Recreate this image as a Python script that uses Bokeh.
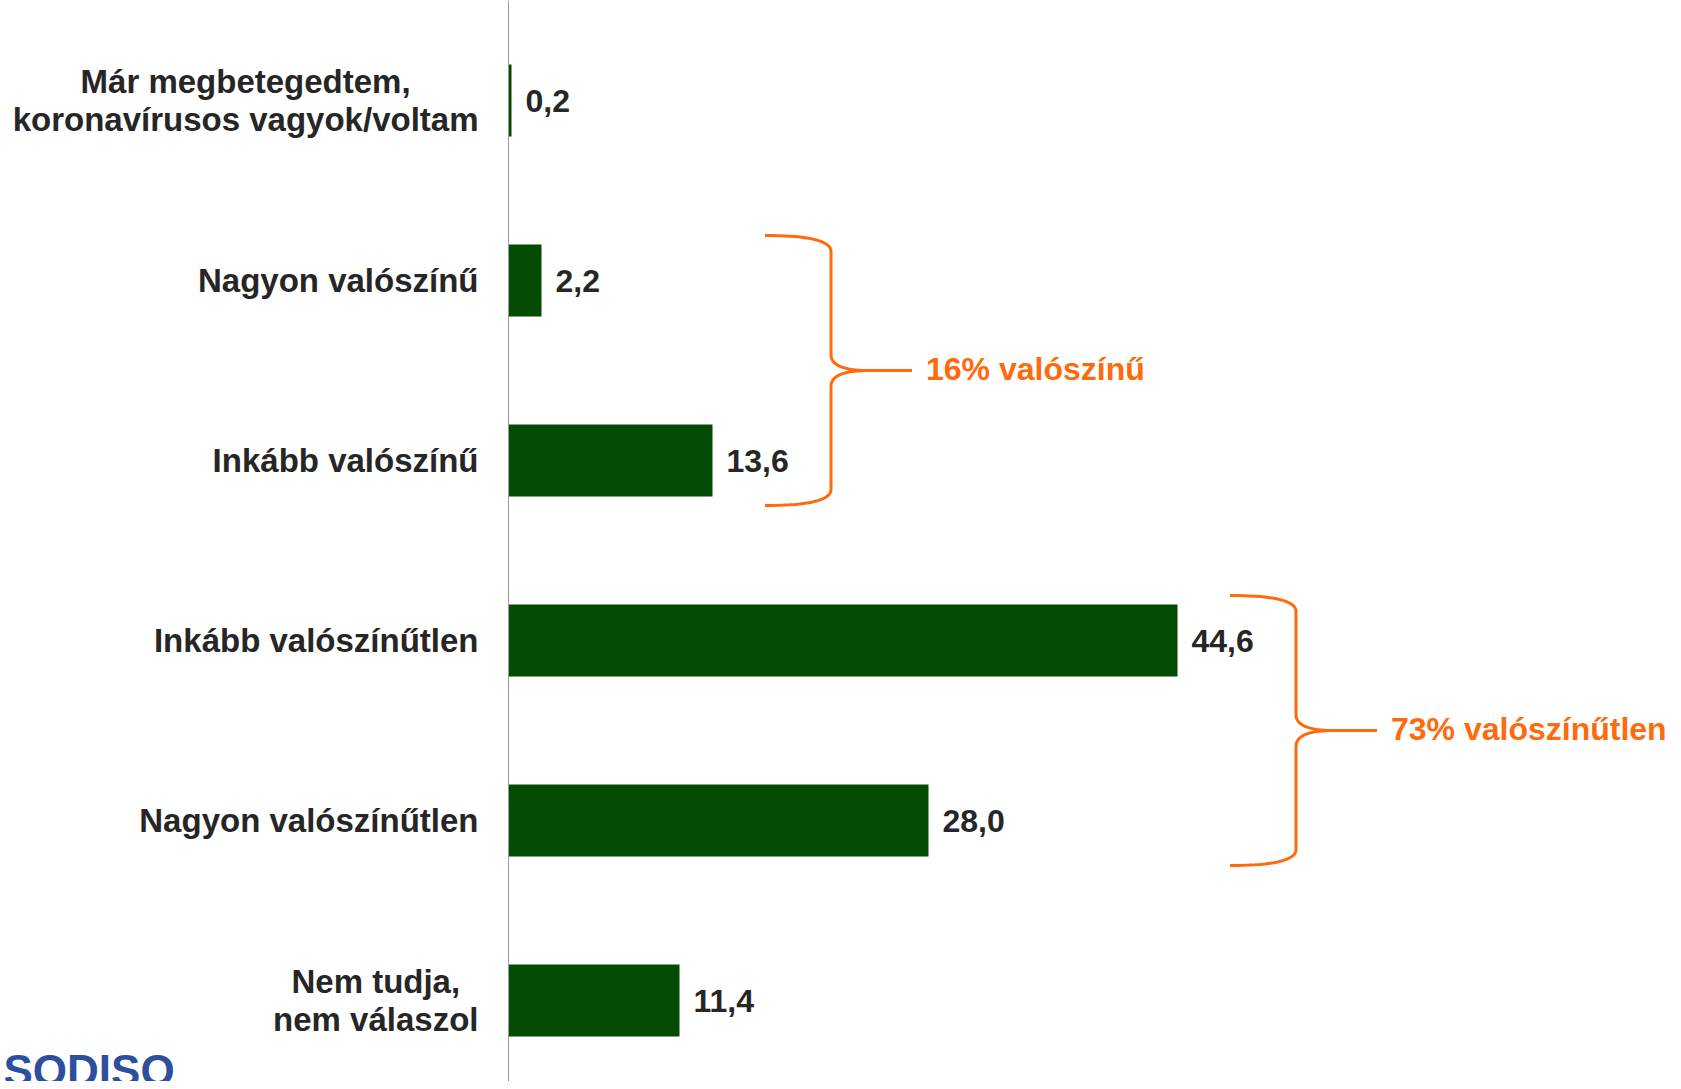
import numpy as np
from bokeh.plotting import figure
from bokeh.models import ColumnDataSource, Range1d, Span, Label
from bokeh.core.properties import value
from bokeh.embed import file_html
from bokeh.resources import INLINE

# ---------------- data ----------------
categories = [
    "Már megbetegedtem,\nkoronavírusos vagyok/voltam",
    "Nagyon valószínű",
    "Inkább valószínű",
    "Inkább valószínűtlen",
    "Nagyon valószínűtlen",
    "Nem tudja,\nnem válaszol",
]
values = [0.2, 2.2, 13.6, 44.6, 28.0, 11.4]
value_labels = ["0,2", "2,2", "13,6", "44,6", "28,0", "11,4"]
group_names = ["valószínű", "valószínűtlen"]
group_members = [[1, 2], [3, 4]]
logo_text = "SODISO"

# ---------------- layout ----------------
W, H = 1673, 1081
axis_px = 508          # x pixel of the value axis within the figure
top_px = 10            # pixel where the category band starts
px_per_unit = 15.0
cat_px = 180.0
n = len(categories)
idx = list(range(n))

FONT_NAME = "Liberation Sans"
FONT = value(FONT_NAME)
DARK = "#262626"
GREEN = "#034a03"
ORANGE = "#ff6a0d"
CAT_SIZE = 33
LINE_PX = 37.5
LABEL_EDGE_PX = -30    # right edge of category labels, relative to the axis

# approximate advance widths (per 1000 em) of a bold Arial-metric font
_W = {" ": 278, ",": 278, "/": 278, "a": 556, "b": 611, "c": 556, "d": 611,
      "e": 556, "g": 611, "i": 278, "j": 278, "k": 556, "l": 278, "m": 889,
      "n": 611, "o": 611, "r": 389, "s": 556, "t": 333, "u": 611, "v": 556,
      "y": 556, "z": 500, "á": 556, "í": 278, "ó": 611, "ú": 611, "ű": 611,
      "M": 833, "N": 722, "I": 278, "K": 722}


def text_w(s, size):
    return sum(_W.get(ch, 600) for ch in s) / 1000.0 * size


p = figure(
    width=W, height=H, output_backend="svg", toolbar_location=None,
    x_range=Range1d(-axis_px / px_per_unit, (W - axis_px) / px_per_unit),
    y_range=Range1d(-0.5 + (H - top_px) / cat_px, -0.5 - top_px / cat_px),
    x_axis_location=None, y_axis_location=None,
    min_border=0, outline_line_color=None, background_fill_color="white",
)
p.xgrid.visible = False
p.ygrid.visible = False

src = ColumnDataSource(dict(y=idx, v=values, lab=value_labels))

p.hbar(y="y", left=0, right="v", height=0.4, source=src,
       fill_color=GREEN, line_color=None)

# vertical axis line
p.add_layout(Span(location=0, dimension="height", line_color="#9a9a9a", line_width=1))

# category labels: block right-aligned, lines centred inside the block
lx, ly, lyo, lt, la = [], [], [], [], []
edge = LABEL_EDGE_PX / px_per_unit
for i, cat in enumerate(categories):
    lines = cat.split("\n")
    if len(lines) == 1:
        lx.append(edge); ly.append(i); lyo.append(0.0); lt.append(cat); la.append("right")
        continue
    wmax = max(text_w(s, CAT_SIZE) for s in lines)
    cxp = edge - wmax / 2 / px_per_unit
    for k, s in enumerate(lines):
        lx.append(cxp); ly.append(i)
        lyo.append((k - (len(lines) - 1) / 2) * LINE_PX)
        lt.append(s); la.append("center")

lab_src = ColumnDataSource(dict(x=lx, y=ly, yo=lyo, t=lt, a=la))
p.text(x="x", y="y", y_offset="yo", text="t", text_align="a", source=lab_src,
       text_baseline="middle", text_font=FONT, text_font_style="bold",
       text_font_size=f"{CAT_SIZE}px", text_color=DARK)

# value labels
p.text(x="v", y="y", text="lab", source=src, x_offset=14, text_align="left",
       text_baseline="middle", text_font=FONT, text_font_style="bold",
       text_font_size="32px", text_color=DARK)

# curly brackets
def quad(p0, c, p1, k=20):
    t = np.linspace(0, 1, k)
    x = (1 - t) ** 2 * p0[0] + 2 * (1 - t) * t * c[0] + t ** 2 * p1[0]
    y = (1 - t) ** 2 * p0[1] + 2 * (1 - t) * t * c[1] + t ** 2 * p1[1]
    return list(x), list(y)

cy = 16 / cat_px
cx = 2.5
xs_all, ys_all = [], []
tx, ty, tt = [], [], []
for name, members in zip(group_names, group_members):
    gv = [values[i] for i in members]
    yt = min(members) - 0.25
    yb = max(members) + 0.25
    ym = (yt + yb) / 2
    x0 = max(gv) + 3.5
    xv = x0 + 4.4
    xe = xv + 5.4
    ax, ay = quad((x0, yt), (xv, yt), (xv, yt + cy))
    bx, by = quad((xv, ym - cy), (xv, ym), (xv + cx, ym))
    xs_all.append(ax + bx + [xe])
    ys_all.append(ay + by + [ym])
    cx_, cy_ = quad((xv + cx, ym), (xv, ym), (xv, ym + cy))
    dx, dy = quad((xv, yb - cy), (xv, yb), (x0, yb))
    xs_all.append(cx_ + dx)
    ys_all.append(cy_ + dy)
    tx.append(xe)
    ty.append(ym)
    tt.append(f"{round(sum(gv)):.0f}% {name}")

p.multi_line(xs=xs_all, ys=ys_all, line_color=ORANGE, line_width=3)
p.text(x=tx, y=ty, text=tt, x_offset=14, y_offset=-2, text_align="left",
       text_baseline="middle", text_font=FONT, text_font_style="bold",
       text_font_size="32px", text_color=ORANGE)

# logo (partly cut at the bottom edge, as in the reference)
p.add_layout(Label(x=3, y=36, x_units="screen", y_units="screen", text=logo_text,
                   text_baseline="top", text_align="left", text_font=FONT_NAME,
                   text_font_style="bold", text_font_size="44px",
                   text_color="#2c4f9e"))

open("out.html", "w").write(file_html(p, INLINE))
